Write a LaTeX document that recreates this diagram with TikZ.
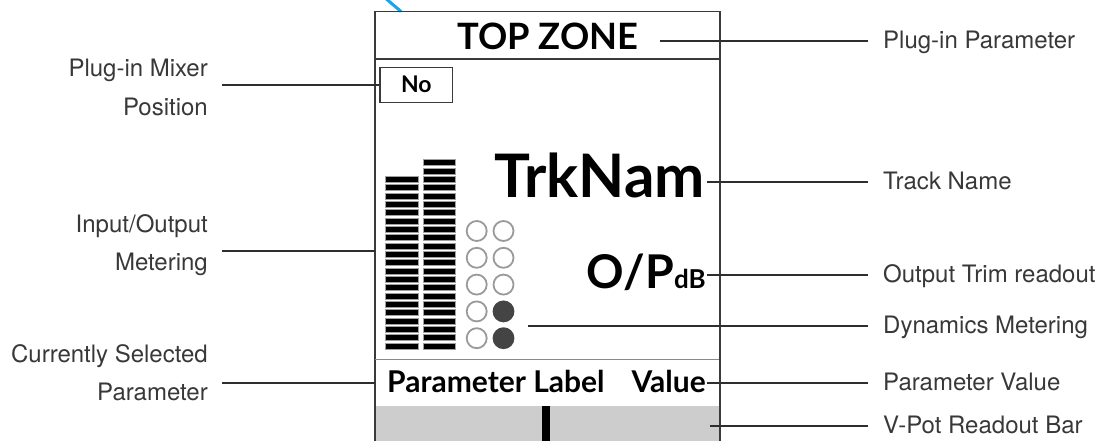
\documentclass[tikz,border=0pt]{standalone}
\usepackage{fontspec}
\setmainfont{TeX Gyre Heros}
\newfontfamily\lato{Lato}
\definecolor{lblgray}{HTML}{383838}
\definecolor{lngray}{HTML}{2E2E2E}
\definecolor{frm}{HTML}{3A3A3A}
\definecolor{dimline}{HTML}{8A8A8A}
\definecolor{barfill}{HTML}{CDCDCD}
\definecolor{ringgray}{HTML}{9A9A9A}
\definecolor{dotfill}{HTML}{444444}
\definecolor{segedge}{HTML}{A0A0A0}
\definecolor{cyanline}{HTML}{1AA3E8}
\begin{document}
\begin{tikzpicture}[x=1pt,y=-1pt,
  lbl/.style={font=\fontsize{24}{38}\selectfont, text=lblgray, inner sep=0pt},
  conn/.style={draw=lngray, line width=2pt},
  scr/.style={font=\lato\bfseries, inner sep=0pt, text=black},
  ring/.style={circle, draw=ringgray, line width=1.8pt, minimum size=20pt, inner sep=0pt},
  dot/.style={circle, fill=dotfill, draw=dotfill, line width=1.8pt, minimum size=20pt, inner sep=0pt},
  seg/.style={fill=black, draw=segedge, line width=0.6pt}]
\useasboundingbox (0,0) rectangle (1099,441);
\begin{scope}
\clip (0,0) rectangle (1099,441);
% cyan stub
\draw[cyanline, line width=3pt] (384,-3) -- (401,11.5);
% gray readout bar
\fill[barfill] (376,406) rectangle (719,445);
\fill[black] (541.7,406) rectangle (550,445);
% screen frame
\draw[frm, line width=1.5pt] (375,445) -- (375,11.5) -- (720,11.5) -- (720,445);
\draw[frm, line width=1.5pt] (375,59) -- (719,59);
\draw[dimline, line width=1pt] (375,359) -- (719,359);
% meters
\foreach \i in {0,...,20} {
  \draw[seg] (385.3,{349-\i*8.33}) rectangle (418,{349-\i*8.33-6.2});
}
\foreach \i in {0,...,22} {
  \draw[seg] (423,{349-\i*8.33}) rectangle (455.7,{349-\i*8.33-6.2});
}
\end{scope}
% dynamics circles
\node[ring] (c11) at (476.7,231) {};
\node[ring] (c12) at (503.5,231) {};
\node[ring] (c21) at (476.7,257.8) {};
\node[ring] (c22) at (503.5,257.8) {};
\node[ring] (c31) at (476.7,284.6) {};
\node[ring] (c32) at (503.5,284.6) {};
\node[ring] (c41) at (476.7,311.4) {};
\node[dot]  (c42) at (503.5,311.4) {};
\node[ring] (c51) at (476.7,338.2) {};
\node[dot]  (c52) at (503.5,338.2) {};
% screen texts
\node[scr, font=\lato\bfseries\fontsize{36.3}{36.3}\selectfont, anchor=base] (tz) at (548,50) {TOP ZONE};
\node[draw=frm, line width=1.2pt, minimum width=72.7pt, minimum height=35.4pt, inner sep=0pt] (no) at (416.3,85) {};
\node[scr, font=\lato\bfseries\fontsize{23}{23}\selectfont, anchor=base] (notxt) at (416.3,93) {No};
\node[scr, font=\lato\bfseries\fontsize{60}{60}\selectfont, anchor=base east] (tn) at (705,197) {TrkNam};
\node[scr, anchor=base east] (op) at (706,288) {\fontsize{46.5}{46.5}\selectfont O/P\fontsize{26}{26}\selectfont dB};
\node[scr, font=\lato\bfseries\fontsize{30}{30}\selectfont, anchor=base west] (pl) at (387,392.7) {Parameter Label};
\node[scr, font=\lato\bfseries\fontsize{30}{30}\selectfont, anchor=base east] (pv) at (706,392.7) {Value};
% right labels
\node[lbl, anchor=base west] (rPP) at (883,48.5) {Plug-in Parameter};
\node[lbl, anchor=base west] (rTN) at (883,189.5) {Track Name};
\node[lbl, anchor=base west] (rOT) at (883,282.5) {Output Trim readout};
\node[lbl, anchor=base west] (rDM) at (883,333.5) {Dynamics Metering};
\node[lbl, anchor=base west] (rPV) at (883,390.5) {Parameter Value};
\node[lbl, anchor=base west] (rVP) at (883,433.5) {V-Pot Readout Bar};
% left labels (base = baseline of last line)
\node[lbl, align=right, anchor=base east] (lMix) at (208,115) {Plug-in Mixer\\Position};
\node[lbl, align=right, anchor=base east] (lIO) at (208,270) {Input/Output\\Metering};
\node[lbl, align=right, anchor=base east] (lCS) at (208,400) {Currently Selected\\Parameter};
% connector start points
\coordinate (pTZ) at (660,41);
\coordinate (pTN) at (707,182);
\coordinate (pOT) at (707,275);
\coordinate (pDM) at (528,326);
\coordinate (pPV) at (707,383);
\coordinate (pVP) at (710,426);
\coordinate (pIO) at (375,251);
\coordinate (pCS) at (375,383);
\coordinate (pNo) at (no.west);
% connectors
\draw[conn, shorten >=15pt] (pTZ) -- (pTZ -| rPP.west);
\draw[conn, shorten >=15pt] (pTN) -- (pTN -| rTN.west);
\draw[conn, shorten >=15pt] (pOT) -- (pOT -| rOT.west);
\draw[conn, shorten >=15pt] (pDM) -- (pDM -| rDM.west);
\draw[conn, shorten >=15pt] (pPV) -- (pPV -| rPV.west);
\draw[conn, shorten >=15pt] (pVP) -- (pVP -| rVP.west);
\draw[conn, shorten >=13.5pt] (pNo) -- (pNo -| lMix.east);
\draw[conn, shorten >=13.5pt] (pIO) -- (pIO -| lIO.east);
\draw[conn, shorten >=13.5pt] (pCS) -- (pCS -| lCS.east);
\end{tikzpicture}
\end{document}
